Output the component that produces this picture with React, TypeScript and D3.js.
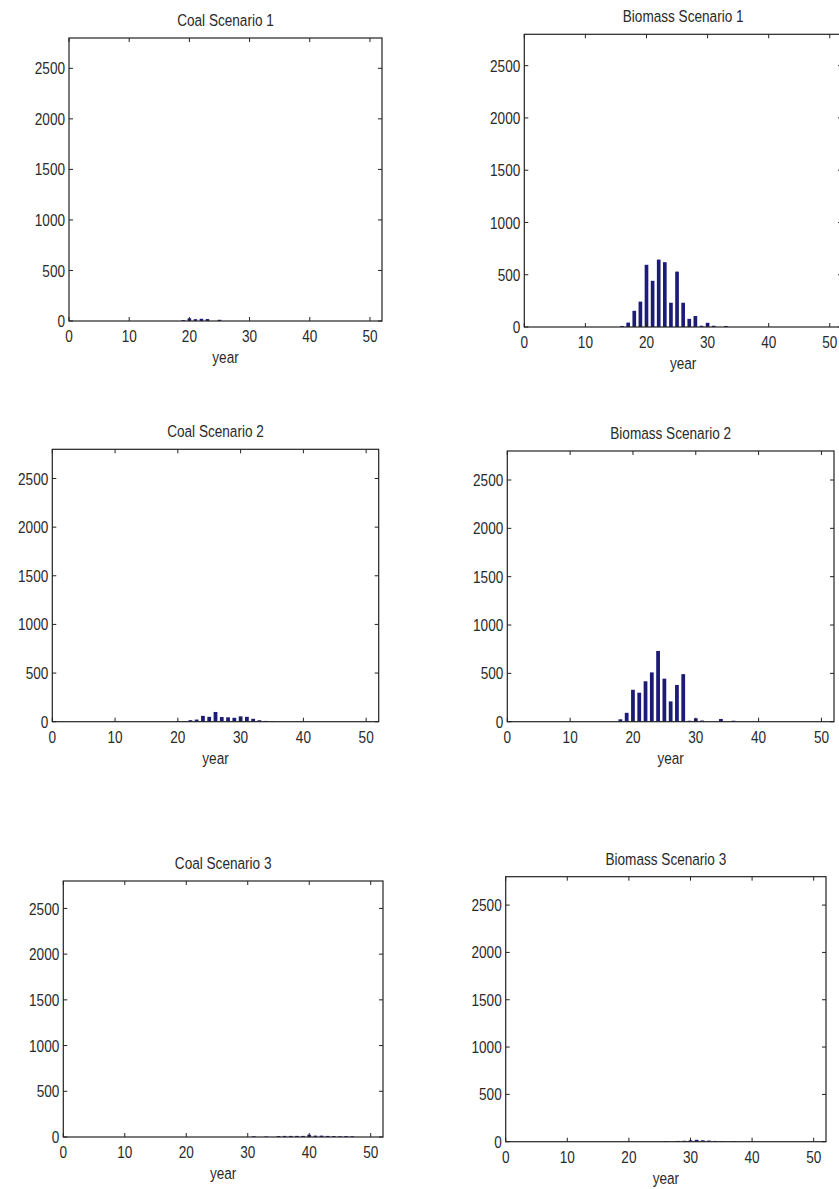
import { useEffect, useRef } from "react";
import * as d3 from "d3";

// histogram counts per year
const coal1 = [
  { year: 19, count: 9 }, { year: 20, count: 26 }, { year: 21, count: 18 },
  { year: 22, count: 22 }, { year: 23, count: 19 }, { year: 25, count: 12 },
];
const biomass1 = [
  { year: 16, count: 10 }, { year: 17, count: 42 }, { year: 18, count: 155 },
  { year: 19, count: 243 }, { year: 20, count: 595 }, { year: 21, count: 442 },
  { year: 22, count: 645 }, { year: 23, count: 620 }, { year: 24, count: 232 },
  { year: 25, count: 530 }, { year: 26, count: 232 }, { year: 27, count: 78 },
  { year: 28, count: 105 }, { year: 29, count: 12 }, { year: 30, count: 40 },
  { year: 31, count: 12 }, { year: 33, count: 10 },
];
const coal2 = [
  { year: 20, count: 5 }, { year: 21, count: 6 }, { year: 22, count: 16 },
  { year: 23, count: 22 }, { year: 24, count: 60 }, { year: 25, count: 50 },
  { year: 26, count: 100 }, { year: 27, count: 48 }, { year: 28, count: 45 },
  { year: 29, count: 40 }, { year: 30, count: 55 }, { year: 31, count: 50 },
  { year: 32, count: 30 }, { year: 33, count: 15 }, { year: 34, count: 8 },
  { year: 35, count: 5 },
];
const biomass2 = [
  { year: 18, count: 25 }, { year: 19, count: 92 }, { year: 20, count: 330 },
  { year: 21, count: 300 }, { year: 22, count: 418 }, { year: 23, count: 510 },
  { year: 24, count: 732 }, { year: 25, count: 445 }, { year: 26, count: 210 },
  { year: 27, count: 380 }, { year: 28, count: 492 }, { year: 29, count: 10 },
  { year: 30, count: 35 }, { year: 31, count: 12 }, { year: 34, count: 28 },
  { year: 36, count: 10 },
];
const coal3 = [
  { year: 31, count: 8 }, { year: 33, count: 6 }, { year: 35, count: 10 },
  { year: 36, count: 12 }, { year: 37, count: 12 }, { year: 38, count: 12 },
  { year: 39, count: 12 }, { year: 40, count: 25 }, { year: 41, count: 15 },
  { year: 42, count: 15 }, { year: 43, count: 12 }, { year: 44, count: 10 },
  { year: 45, count: 8 }, { year: 46, count: 10 }, { year: 47, count: 8 },
];
const biomass3 = [
  { year: 26, count: 5 }, { year: 28, count: 8 }, { year: 29, count: 10 },
  { year: 30, count: 15 }, { year: 31, count: 20 }, { year: 32, count: 15 },
  { year: 33, count: 12 }, { year: 34, count: 8 }, { year: 35, count: 5 },
  { year: 37, count: 5 },
];

const titles = [
  "Coal Scenario 1", "Biomass Scenario 1",
  "Coal Scenario 2", "Biomass Scenario 2",
  "Coal Scenario 3", "Biomass Scenario 3",
];
const series = [coal1, biomass1, coal2, biomass2, coal3, biomass3];
const xTicks = [0, 10, 20, 30, 40, 50];
const yTicks = [0, 500, 1000, 1500, 2000, 2500];
const xDomain: [number, number] = [0, 52];
const yDomain: [number, number] = [0, 2800];

// plot boxes in page pixels
const boxes = [
  { l: 69, r: 382, t: 38, b: 321 },
  { l: 524.3, r: 842, t: 34.3, b: 327 },
  { l: 52.3, r: 378.7, t: 449.3, b: 721.7 },
  { l: 507.3, r: 834, t: 451, b: 721.7 },
  { l: 63.3, r: 383, t: 881, b: 1137 },
  { l: 505.7, r: 826, t: 876.7, b: 1141.7 },
];

const W = 839;
const H = 1189;
const FONT = "'Liberation Sans', Arial, sans-serif";
const BAR = "#1c1c78";
const SQUEEZE = 0.8;

export default function App() {
  const svgRef = useRef<SVGSVGElement>(null);

  useEffect(() => {
    if (!svgRef.current) return;
    const svg = d3.select(svgRef.current);
    svg.selectAll("*").remove();

    // narrow text, like the old matlab screen font
    const label = (g: any, x: number, y: number, txt: string, anchor: string) =>
      g.append("text")
        .attr("transform", `translate(${x},${y}) scale(${SQUEEZE},1)`)
        .attr("text-anchor", anchor)
        .attr("dominant-baseline", "central")
        .attr("font-family", FONT)
        .attr("font-size", 17)
        .attr("fill", "#2a2a2a")
        .text(txt);

    boxes.forEach((bx, i) => {
      const x = d3.scaleLinear().domain(xDomain).range([bx.l, bx.r]);
      const y = d3.scaleLinear().domain(yDomain).range([bx.b, bx.t]);
      const g = svg.append("g");
      const unit = x(1) - x(0);
      const bw = unit * 0.6;

      g.selectAll("rect.bar")
        .data(series[i])
        .enter()
        .append("rect")
        .attr("class", "bar")
        .attr("x", (d) => x(d.year) - bw / 2)
        .attr("y", (d) => y(d.count))
        .attr("width", bw)
        .attr("height", (d) => y(0) - y(d.count))
        .attr("fill", BAR);

      // inward ticks on all four sides
      const tl = 4;
      xTicks.forEach((v) => {
        g.append("line").attr("x1", x(v)).attr("x2", x(v)).attr("y1", bx.b).attr("y2", bx.b - tl);
        g.append("line").attr("x1", x(v)).attr("x2", x(v)).attr("y1", bx.t).attr("y2", bx.t + tl);
        label(g, x(v), bx.b + 15, String(v), "middle");
      });
      yTicks.forEach((v) => {
        g.append("line").attr("x1", bx.l).attr("x2", bx.l + tl).attr("y1", y(v)).attr("y2", y(v));
        g.append("line").attr("x1", bx.r).attr("x2", bx.r - tl).attr("y1", y(v)).attr("y2", y(v));
        label(g, bx.l - 4, y(v), String(v), "end");
      });
      g.selectAll("line").attr("stroke", "#222").attr("stroke-width", 1);

      g.append("rect")
        .attr("x", bx.l)
        .attr("y", bx.t)
        .attr("width", bx.r - bx.l)
        .attr("height", bx.b - bx.t)
        .attr("fill", "none")
        .attr("stroke", "#222")
        .attr("stroke-width", 1.2);

      label(g, (bx.l + bx.r) / 2, bx.t - 18, titles[i], "middle");
      label(g, (bx.l + bx.r) / 2, bx.b + 36, "year", "middle");
    });
  }, []);

  return (
    <div style={{ position: "absolute", left: 0, top: 0, width: W, height: H, background: "#fff" }}>
      <svg ref={svgRef} width={W} height={H} style={{ display: "block" }} />
    </div>
  );
}
